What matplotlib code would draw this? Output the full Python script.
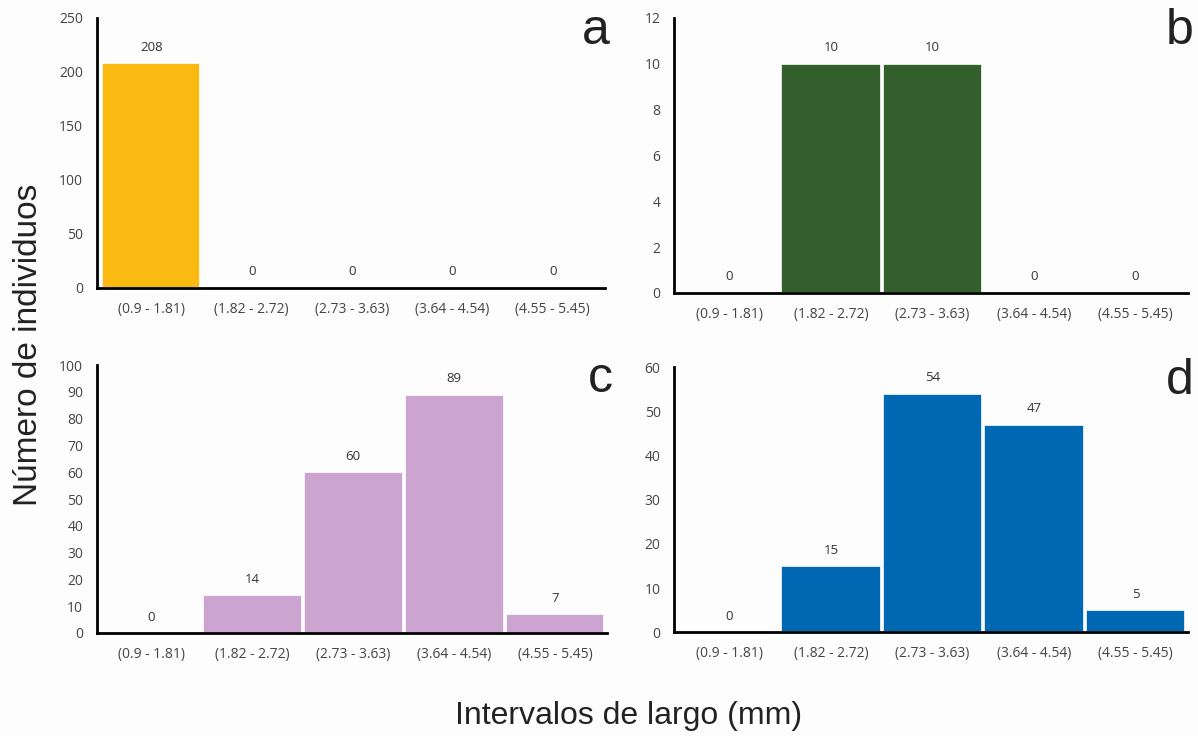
import matplotlib.pyplot as plt

# intervalos de largo (mm)
intervals = ['(0.9 - 1.81)', '(1.82 - 2.72)', '(2.73 - 3.63)', '(3.64 - 4.54)', '(4.55 - 5.45)']

counts_a = [208, 0, 0, 0, 0]
counts_b = [0, 10, 10, 0, 0]
counts_c = [0, 14, 60, 89, 7]
counts_d = [0, 15, 54, 47, 5]

letters = ['a', 'b', 'c', 'd']
colors = ['#FBBA12', '#335F2C', '#CCA4D0', '#0068B2']
ymax = [250, 12, 100, 60]
ystep = [50, 2, 10, 10]

fig = plt.figure(figsize=(11.98, 7.36), dpi=100)
fig.patch.set_facecolor('#fdfdfd')
boxes = [[0.081, 0.609, 0.424, 0.367],
         [0.563, 0.602, 0.429, 0.374],
         [0.081, 0.140, 0.426, 0.364],
         [0.563, 0.141, 0.429, 0.360]]

tick_font = 'Open Sans'
for box, vals, col, ym, st, let in zip(boxes, [counts_a, counts_b, counts_c, counts_d],
                                       colors, ymax, ystep, letters):
    ax = fig.add_axes(box)
    ax.set_facecolor('#fdfdfd')
    x = range(len(intervals))
    ax.bar(x, vals, width=0.98, color=col, edgecolor='white', linewidth=1.2)
    for i, v in enumerate(vals):
        ax.text(i, v + ym * 0.035, str(v), ha='center', va='bottom',
                fontsize=9.5, family=tick_font, color='#333333')
    ax.set_xlim(-0.54, len(intervals) - 0.48)
    ax.set_ylim(0, ym)
    ax.set_yticks(range(0, ym + 1, st))
    ax.set_xticks(list(x))
    ax.set_xticklabels(intervals)
    ax.tick_params(length=0, labelsize=10, colors='#444444', pad=10)
    for lab in ax.get_xticklabels() + ax.get_yticklabels():
        lab.set_family(tick_font)
    for s in ['top', 'right']:
        ax.spines[s].set_visible(False)
    for s in ['left', 'bottom']:
        ax.spines[s].set_linewidth(2)
        ax.spines[s].set_color('black')
    ax.text(1.01, 1.035, let, transform=ax.transAxes, ha='right', va='top',
            fontsize=36, family='Liberation Sans', color='#222222')

fig.text(0.024, 0.531, 'Número de individuos', rotation=90, ha='center', va='center',
         fontsize=24, family='Liberation Sans', color='#222222')
fig.text(0.525, 0.027, 'Intervalos de largo (mm)', ha='center', va='center',
         fontsize=23, family='Liberation Sans', color='#222222')

fig.savefig('out.png', dpi=100, facecolor=fig.get_facecolor())
